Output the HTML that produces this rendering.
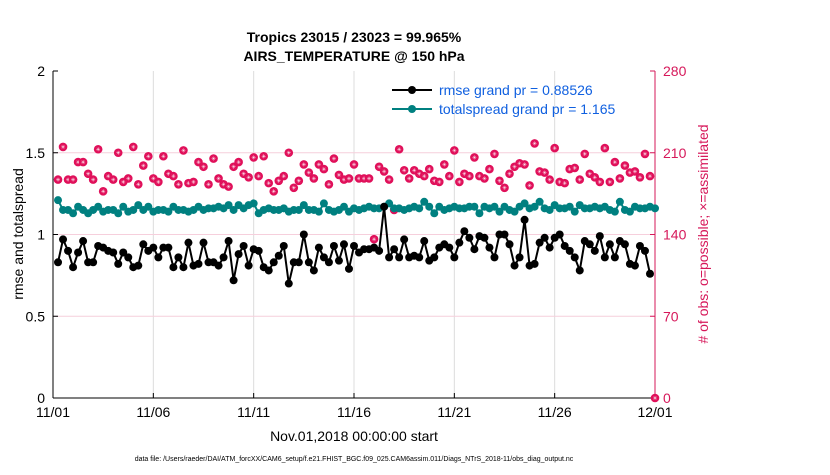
<!DOCTYPE html>
<html><head><meta charset="utf-8"><style>
body{margin:0;background:#fff;}
svg text{font-family:"Liberation Sans",sans-serif;}
</style></head><body>
<svg id="chart" width="830" height="470" viewBox="0 0 830 470" xmlns="http://www.w3.org/2000/svg">
<rect width="830" height="470" fill="#fff"/>
<text x="354" y="42" font-size="14" font-weight="bold" text-anchor="middle">Tropics 23015 / 23023 = 99.965%</text>
<text x="354" y="61" font-size="14" font-weight="bold" text-anchor="middle">AIRS_TEMPERATURE @ 150 hPa</text>
<g id="grid"></g>
<g id="axes"></g>
<g id="series"></g>
<text transform="translate(23,234) rotate(-90)" font-size="14" text-anchor="middle">rmse and totalspread</text>
<text transform="translate(708,234) rotate(-90)" font-size="14" text-anchor="middle" fill="#d6185a"># of obs: o=possible; ×=assimilated</text>
<text x="354" y="441" font-size="14" text-anchor="middle">Nov.01,2018 00:00:00 start</text>
<text x="354" y="461" font-size="7" text-anchor="middle">data file: /Users/raeder/DAI/ATM_forcXX/CAM6_setup/f.e21.FHIST_BGC.f09_025.CAM6assim.011/Diags_NTrS_2018-11/obs_diag_output.nc</text>
<g>
<line x1="392" y1="90" x2="432" y2="90" stroke="#000" stroke-width="2"/>
<circle cx="412" cy="90" r="4" fill="#000"/>
<text x="439" y="95" font-size="14" fill="#1060e0">rmse grand pr = 0.88526</text>
<line x1="392" y1="109" x2="432" y2="109" stroke="#008080" stroke-width="2"/>
<circle cx="412" cy="109" r="4" fill="#008080"/>
<text x="439" y="114" font-size="14" fill="#1060e0">totalspread grand pr = 1.165</text>
</g>
</svg>
<script>
const rmse=[0.83,0.97,0.9,0.80,0.89,0.96,0.83,0.83,0.93,0.92,0.9,0.89,0.82,0.89,0.86,0.8,0.81,0.94,0.9,0.92,0.86,0.92,0.92,0.8,0.86,0.8,0.95,0.81,0.82,0.95,0.83,0.83,0.81,0.86,0.96,0.72,0.88,0.93,0.81,
0.91,0.9,0.8,0.78,0.83,0.87,0.93,0.70,0.83,0.83,1.0,0.83,0.78,0.92,0.86,0.83,0.93,0.84,0.94,0.79,0.93,0.89,0.91,0.91,0.92,0.9,1.17,0.86,0.91,0.86,0.97,0.86,0.87,0.86,0.96,0.84,0.86,0.92,0.94,
0.92,0.86,0.95,1.02,0.98,0.91,0.99,0.98,0.92,0.86,1.0,1.0,0.94,0.81,0.86,1.09,0.81,0.82,0.95,0.98,0.92,0.98,1.0,0.93,0.9,0.86,0.78,0.96,0.94,0.9,0.99,0.86,0.94,0.86,0.96,0.94,0.82,0.81,0.93,0.9,0.76];
const spread=[1.21,1.15,1.15,1.13,1.17,1.15,1.13,1.15,1.17,1.14,1.15,1.15,1.13,1.17,1.14,1.15,1.18,1.15,1.17,1.14,1.15,1.15,1.14,1.17,1.15,1.15,1.14,1.15,1.17,1.15,1.16,1.16,1.17,1.16,1.18,1.15,1.18,1.16,1.18,1.19,
1.13,1.15,1.16,1.15,1.15,1.16,1.14,1.15,1.15,1.18,1.15,1.15,1.14,1.19,1.15,1.14,1.15,1.17,1.14,1.16,1.15,1.16,1.17,1.16,1.16,1.17,1.19,1.16,1.16,1.15,1.16,1.17,1.16,1.20,1.17,1.13,1.17,1.15,1.16,1.17,
1.16,1.16,1.17,1.17,1.13,1.17,1.16,1.17,1.14,1.17,1.15,1.14,1.17,1.19,1.16,1.17,1.20,1.16,1.15,1.18,1.16,1.16,1.17,1.14,1.18,1.16,1.16,1.17,1.16,1.17,1.15,1.14,1.20,1.15,1.14,1.17,1.16,1.16,1.17,1.16];
const nobs=[187,215,187,187,202,202,192,187,213,177,190,187,210,185,188,215,183,199,207,188,185,207,192,190,183,212,184,185,202,198,183,205,188,183,181,198,202,192,189,206,
190,207,184,177,186,190,210,180,186,200,193,188,200,196,183,205,191,187,188,200,188,188,188,136,198,194,187,161,213,195,188,195,192,190,196,186,185,200,190,212,
185,192,190,206,190,188,196,209,186,180,192,198,201,200,182,218,194,193,187,214,185,184,196,197,187,209,192,189,185,214,185,202,188,199,193,194,189,209,190,0];
const xTicks=["11/01","11/06","11/11","11/16","11/21","11/26","12/01"];
const yTicks=[0,0.5,1,1.5,2];
const y2Ticks=[0,70,140,210,280];
const L=53,R=655,T=71,B=398,NS="http://www.w3.org/2000/svg";
const xs=d=>L+(R-L)*d/30;
const ys=v=>B-(B-T)*v/2;
const y2s=c=>B-(B-T)*c/280;
function mk(tag,attrs,parent){const e=document.createElementNS(NS,tag);for(const k in attrs)e.setAttribute(k,attrs[k]);parent.appendChild(e);return e;}
const grid=document.getElementById('grid'),axes=document.getElementById('axes'),ser=document.getElementById('series');
xTicks.forEach((t,i)=>{const x=xs(i*5);
 if(i>0&&i<6){const g=mk('line',{x1:x,x2:x,y1:T,y2:B,stroke:'#dcdcdc','stroke-width':1},grid);
 
 }
 mk('line',{x1:x,x2:x,y1:B,y2:B-5,stroke:'#000'},axes);
 const tx=mk('text',{x:x,y:417,'font-size':14,'text-anchor':'middle'},axes);tx.textContent=t;
 
 
});
yTicks.forEach(v=>{const y=ys(v);
 mk('line',{x1:L,x2:L+5,y1:y,y2:y,stroke:'#000'},axes);
 const tx=mk('text',{x:L-8,y:y+5,'font-size':14,'text-anchor':'end'},axes);tx.textContent=String(v);
 
 
});
y2Ticks.forEach(c=>{const y=y2s(c);
 if(c>0&&c<280){const g=mk('line',{x1:L,x2:R,y1:y,y2:y,stroke:'#f6cfdc','stroke-width':1},grid);
 
 }
 mk('line',{x1:R-5,x2:R,y1:y,y2:y,stroke:'#d6185a'},axes);
 const tx=mk('text',{x:R+8,y:y+5,'font-size':14,fill:'#d6185a'},axes);tx.textContent=String(c);
 
 
});
mk('line',{x1:L,x2:R,y1:B,y2:B,stroke:'#000'},axes);
mk('line',{x1:L,x2:L,y1:T,y2:B,stroke:'#000'},axes);
mk('line',{x1:R,x2:R,y1:T,y2:B,stroke:'#d6185a'},axes);
const tOf=i=>(i+1)*0.25;
nobs.forEach((c,i)=>{const x=i===nobs.length-1?xs(30):xs(tOf(i)),y=y2s(c);
 const p=mk('circle',{cx:x,cy:y,r:4.3,fill:'#e0105a'},ser);
 
 
 mk('path',{d:`M${x-2},${y}H${x+2}M${x},${y-2}V${y+2}M${x-1.4},${y-1.4}L${x+1.4},${y+1.4}M${x-1.4},${y+1.4}L${x+1.4},${y-1.4}`,stroke:'#fff','stroke-width':0.4},ser);
});
function line(arr,color,name){
 const pl=mk('polyline',{points:arr.map((v,i)=>xs(tOf(i))+','+ys(v)).join(' '),fill:'none',stroke:color,'stroke-width':2},ser);
 
 
 arr.forEach((v,i)=>{const c=mk('circle',{cx:xs(tOf(i)),cy:ys(v),r:4,fill:color},ser);
 
 });
}
line(spread,'#008080','totalspread');
line(rmse,'#000','rmse');
</script>
</body></html>
